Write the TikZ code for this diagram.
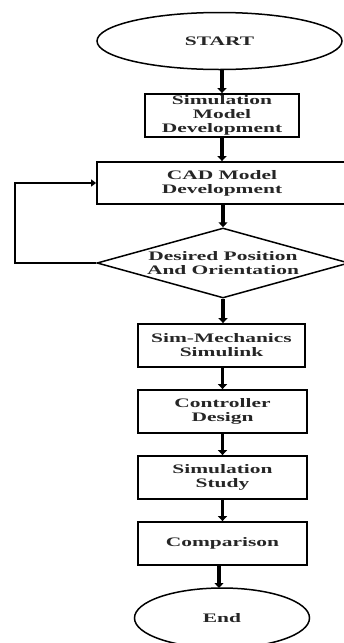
\documentclass[tikz,border=0pt]{standalone}
\usepackage{fontspec}
\setmainfont[FakeStretch=1.65]{Liberation Serif}
\usetikzlibrary{shapes.geometric,arrows.meta}
\begin{document}
\begin{tikzpicture}[x=1pt,y=-1pt,
  every node/.style={font=\bfseries\fontsize{13}{14}\selectfont, text=black!85, align=center, inner sep=0pt},
  procbox/.style={draw, line width=1.8pt, rectangle, minimum width=#1, minimum height=43pt},
  term/.style={draw, line width=1.5pt, ellipse},
  flow/.style={line width=3.2pt, -{Triangle[width=9pt,length=5pt]}},
  back/.style={line width=2pt, -{Triangle[width=7pt,length=5pt]}}]
\useasboundingbox (0,0) rectangle (343,643);
\node[term, minimum width=245pt, minimum height=57pt] (start) at (219.5,41) {START};
\node[procbox=154pt] (smd) at (222,115.5) {Simulation\\Model\\Development};
\node[procbox=250pt, minimum height=42pt] (cad) at (222,183) {CAD Model\\Development};
\node[draw, line width=1.5pt, diamond, aspect=3.6, minimum width=252pt, minimum height=70pt, inner sep=0pt] (des) at (223,263) {};
\node at (des.center) {Desired Position\\And Orientation};
\node[procbox=167pt] (sim) at (221.5,345.5) {Sim-Mechanics\\Simulink};
\node[procbox=169pt] (ctl) at (222.5,411.5) {Controller\\Design};
\node[procbox=169pt] (study) at (222.5,477.5) {Simulation\\Study};
\node[procbox=169pt] (cmp) at (222.5,543.5) {Comparison};
\node[term, minimum width=175pt, minimum height=60pt] (end) at (222,618) {End};
\coordinate (fb1) at (15,263);
\coordinate (fb2) at (15,183);
\draw[flow] (start.south -| smd.north) -- (smd.north);
\draw[flow] (smd) -- (cad);
\draw[flow] (cad.south -| des.north) -- (des.north);
\draw[flow] (des.south) -- (des.south |- sim.north);
\draw[flow] (sim.south -| ctl.north) -- (ctl.north);
\draw[flow] (ctl) -- (study);
\draw[flow] (study) -- (cmp);
\draw[flow] (cmp.south -| 219,0) -- (219,588);
\draw[back] (des.west) -- (fb1) -- (fb2) -- (cad.west);
\end{tikzpicture}
\end{document}
